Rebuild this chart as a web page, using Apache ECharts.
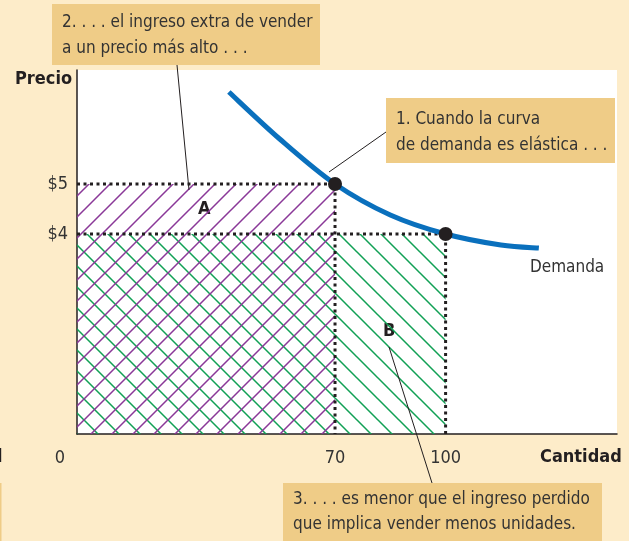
<!DOCTYPE html>
<html>
<head>
<meta charset="utf-8">
<script src="https://cdn.jsdelivr.net/npm/echarts@6/dist/echarts.min.js"></script>
<style>
  html, body { margin: 0; padding: 0; background: #fdecc9; }
  #chart { width: 629px; height: 541px; }
</style>
</head>
<body>
<div id="chart"></div>
<script>
// datos de la curva de demanda (cantidad, precio)
var demandQty = [41.2, 55, 70, 85, 100, 115, 125.3];
var demandPrice = [6.84, 5.9, 5, 4.38, 4, 3.78, 3.72];
// los dos puntos marcados
var pointQty = [70, 100];
var pointPrice = [5, 4];
// rectangulos de ingreso [q0, q1, p0, p1]
var rectA = [0, 70, 0, 5];   // ingreso a $5
var rectB = [0, 100, 0, 4];  // ingreso a $4
var xTicks = [0, 70, 100];
var yTicks = [4, 5];

var FONT = '"Liberation Sans Narrow", "DejaVu Sans Condensed", sans-serif';
var BOX = '#efcc87';
var TXT = '#333333';

// tile de rayado
function hatch(color, dir) {
  var s = 21;
  var c = document.createElement('canvas');
  c.width = s; c.height = s;
  var g = c.getContext('2d');
  g.strokeStyle = color;
  g.lineWidth = 1.5;
  g.beginPath();
  if (dir > 0) {
    g.moveTo(-2, s + 2); g.lineTo(s + 2, -2);
    g.moveTo(-2, 2); g.lineTo(2, -2);
    g.moveTo(s - 2, s + 2); g.lineTo(s + 2, s - 2);
  } else {
    g.moveTo(-2, -2); g.lineTo(s + 2, s + 2);
    g.moveTo(s - 2, -2); g.lineTo(s + 2, 2);
    g.moveTo(-2, s - 2); g.lineTo(2, s + 2);
  }
  g.stroke();
  return c;
}

var chart = echarts.init(document.getElementById('chart'));

function rectItem(params, api) {
  var p0 = api.coord([api.value(0), api.value(3)]);
  var p1 = api.coord([api.value(1), api.value(2)]);
  return {
    type: 'rect',
    shape: { x: p0[0], y: p0[1], width: p1[0] - p0[0], height: p1[1] - p0[1] },
    style: api.style()
  };
}

// curva suave (Catmull-Rom) a traves de los puntos leidos
function curveItem(params, api) {
  if (params.dataIndex !== 0) return;
  var p = demand.map(function (d) { return api.coord(d); });
  var d = 'M' + p[0][0] + ' ' + p[0][1];
  for (var i = 0; i < p.length - 1; i++) {
    var a = p[i - 1] || p[i], b = p[i], c = p[i + 1], e = p[i + 2] || c;
    var c1x = b[0] + (c[0] - a[0]) / 6, c1y = b[1] + (c[1] - a[1]) / 6;
    var c2x = c[0] - (e[0] - b[0]) / 6, c2y = c[1] - (e[1] - b[1]) / 6;
    d += ' C' + c1x + ' ' + c1y + ' ' + c2x + ' ' + c2y + ' ' + c[0] + ' ' + c[1];
  }
  return {
    type: 'path',
    shape: { pathData: d },
    style: { fill: null, stroke: '#0a70bd', lineWidth: 5 }
  };
}

var demand = demandQty.map(function (q, i) { return [q, demandPrice[i]]; });
var points = pointQty.map(function (q, i) { return [q, pointPrice[i]]; });

var option = {
  backgroundColor: '#fdecc9',
  animation: false,
  grid: { left: 77, right: 12, top: 70, bottom: 107, show: true, backgroundColor: '#ffffff', borderWidth: 0 },
  xAxis: {
    type: 'value', min: 0, max: 146.5,
    axisLine: { show: true, lineStyle: { color: '#231f20', width: 1.5 } },
    axisTick: { show: false },
    splitLine: { show: false },
    axisLabel: {
      customValues: xTicks,
      margin: 15,
      fontFamily: FONT, fontSize: 18, color: TXT,
      formatter: function (v) { return v === 0 ? '{z|0}' : '' + v; },
      rich: { z: { fontFamily: FONT, fontSize: 18, color: TXT, padding: [0, 34, 0, 0] } }
    }
  },
  yAxis: {
    type: 'value', min: 0, max: 7.28,
    axisLine: { show: true, lineStyle: { color: '#231f20', width: 1.5 } },
    axisTick: { show: false },
    splitLine: { show: false },
    axisLabel: {
      customValues: yTicks,
      margin: 9,
      fontFamily: FONT, fontSize: 18, color: TXT,
      formatter: function (v) { return '$' + v; }
    }
  },
  series: [
    {
      type: 'custom', renderItem: rectItem, data: [rectB], z: 1,
      itemStyle: { color: { image: hatch('#11a055', -1), repeat: 'repeat' } }
    },
    {
      type: 'custom', renderItem: rectItem, data: [rectA], z: 2,
      itemStyle: { color: { image: hatch('#8a3898', 1), repeat: 'repeat' } }
    },
    {
      type: 'line', z: 3, symbol: 'none',
      data: [[rectA[0], rectA[3]], [rectA[1], rectA[3]], [rectA[1], rectA[2]]],
      lineStyle: { color: '#231f20', width: 3, type: [3, 3.5] }
    },
    {
      type: 'line', z: 3, symbol: 'none',
      data: [[rectB[0], rectB[3]], [rectB[1], rectB[3]], [rectB[1], rectB[2]]],
      lineStyle: { color: '#231f20', width: 3, type: [3, 3.5] }
    },
    {
      type: 'custom', z: 4, renderItem: curveItem,
      data: demand
    },
    {
      type: 'scatter', z: 5, symbolSize: 14,
      data: points,
      itemStyle: { color: '#231f20', opacity: 1 }
    }
  ],
  graphic: [
    // etiquetas de ejes
    { type: 'text', left: 15, top: 70, style: { text: 'Precio', font: 'bold 18px ' + FONT, fill: '#231f20' } },
    { type: 'text', left: 540, top: 448, style: { text: 'Cantidad', font: 'bold 18px ' + FONT, fill: '#231f20' } },
    { type: 'text', x: -3, y: 448, style: { text: 'l', font: 'bold 18px ' + FONT, fill: '#231f20' } },
    { type: 'rect', shape: { x: 0, y: 483, width: 1.5, height: 58 }, style: { fill: BOX } },
    { type: 'text', left: 530, top: 259, style: { text: 'Demanda', font: '17px ' + FONT, fill: TXT } },
    { type: 'text', left: 198, top: 200, style: { text: 'A', font: 'bold 18px ' + FONT, fill: '#231f20' } },
    { type: 'text', left: 383, top: 322, style: { text: 'B', font: 'bold 18px ' + FONT, fill: '#231f20' } },
    // lineas guia
    { type: 'line', z: 10, shape: { x1: 177, y1: 65, x2: 189, y2: 190 }, style: { stroke: '#231f20', lineWidth: 1 } },
    { type: 'line', z: 10, shape: { x1: 386, y1: 132, x2: 329, y2: 172 }, style: { stroke: '#231f20', lineWidth: 1 } },
    { type: 'line', z: 10, shape: { x1: 389, y1: 347, x2: 432, y2: 483 }, style: { stroke: '#231f20', lineWidth: 1 } },
    // cajas
    { type: 'rect', z: 11, shape: { x: 52, y: 4, width: 268, height: 61 }, style: { fill: BOX } },
    { type: 'text', z: 12, x: 62, y: 10, style: { text: '2. . . . el ingreso extra de vender\na un precio más alto . . .', font: '17px ' + FONT, lineHeight: 26, fill: TXT } },
    { type: 'rect', z: 11, shape: { x: 386, y: 98, width: 229, height: 65 }, style: { fill: BOX } },
    { type: 'text', z: 12, x: 396, y: 107, style: { text: '1. Cuando la curva\nde demanda es elástica . . .', font: '17px ' + FONT, lineHeight: 26, fill: TXT } },
    { type: 'rect', z: 11, shape: { x: 283, y: 483, width: 319, height: 58 }, style: { fill: BOX } },
    { type: 'text', z: 12, x: 293, y: 487, style: { text: '3. . . . es menor que el ingreso perdido\nque implica vender menos unidades.', font: '17px ' + FONT, lineHeight: 25, fill: TXT } }
  ]
};
chart.setOption(option);
</script>
</body>
</html>
